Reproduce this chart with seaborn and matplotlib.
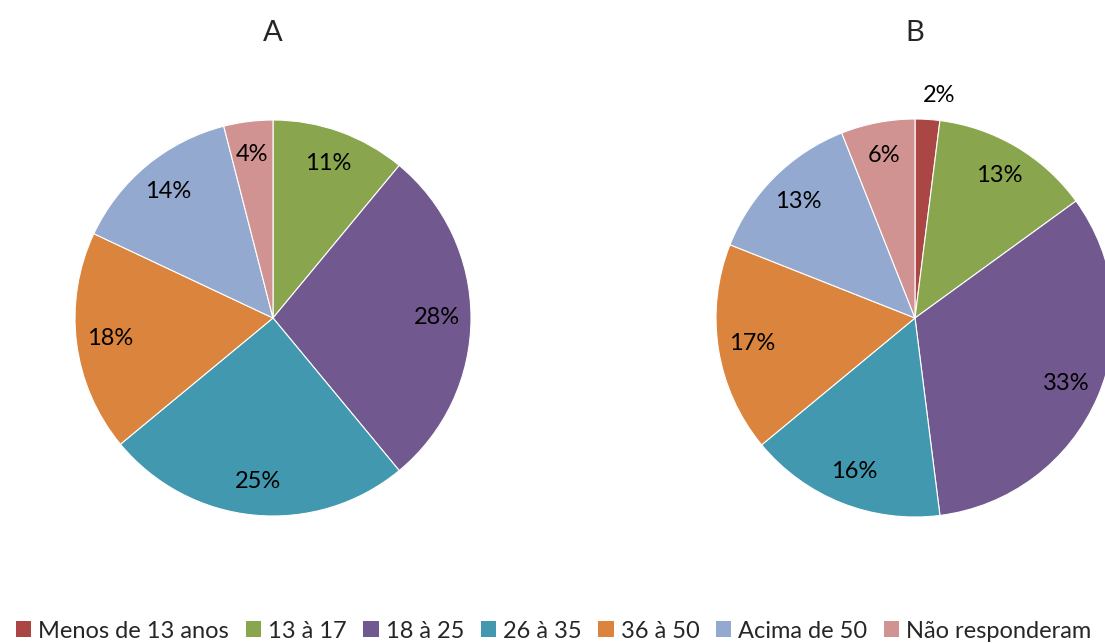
import numpy as np
import seaborn as sns
from matplotlib import pyplot as plt
from matplotlib.patches import Patch

categories = ['Menos de 13 anos', '13 à 17', '18 à 25', '26 à 35', '36 à 50', 'Acima de 50', 'Não responderam']
values_a = [0, 11, 28, 25, 18, 14, 4]
values_b = [2, 13, 33, 16, 17, 13, 6]
titles = ['A', 'B']

colors = ['#AA4643', '#89A54E', '#71588F', '#4198AF', '#DB843D', '#93A9CF', '#D19392']

sns.set_theme(style='white')
plt.rcParams['font.family'] = ['Lato', 'DejaVu Sans']

W, H = 1105, 643
fig = plt.figure(figsize=(W / 100, H / 100), dpi=100)

# pie centers / radius in pixels
specs = [(273, 318, 198), (915, 318, 199)]

for vals, title, (cx, cy, r) in zip([values_a, values_b], titles, specs):
    ax = fig.add_axes([(cx - r) / W, (H - cy - r) / H, 2 * r / W, 2 * r / H])
    wedges, texts, autotexts = ax.pie(
        vals, colors=colors, startangle=90, counterclock=False,
        autopct=lambda p: '' if p < 0.5 else '%.0f%%' % p,
        pctdistance=0.83, radius=1,
        wedgeprops=dict(edgecolor='white', linewidth=0.8),
        textprops=dict(fontsize=17, color='black'))
    ax.set_xlim(-1, 1)
    ax.set_ylim(-1, 1)
    ax.set_aspect('equal')
    ax.axis('off')
    # small slices get their label outside
    for w, t, v in zip(wedges, autotexts, vals):
        if 0 < v < 3:
            ang = np.deg2rad((w.theta1 + w.theta2) / 2)
            t.set_position((1.12 * np.cos(ang) + 0.05, 1.12 * np.sin(ang)))
    fig.text(cx / W, 1 - 33 / H, title, ha='center', va='center', fontsize=21)

handles = [Patch(facecolor=c, edgecolor='none') for c in colors]
fig.legend(handles, categories, loc='center left', bbox_to_anchor=(16 / W, 12 / H),
           ncol=7, frameon=False, fontsize=17, handlelength=0.65, handleheight=0.65,
           handletextpad=0.3, columnspacing=0.7, borderaxespad=0, borderpad=0)

fig.savefig('out.png', dpi=100)
